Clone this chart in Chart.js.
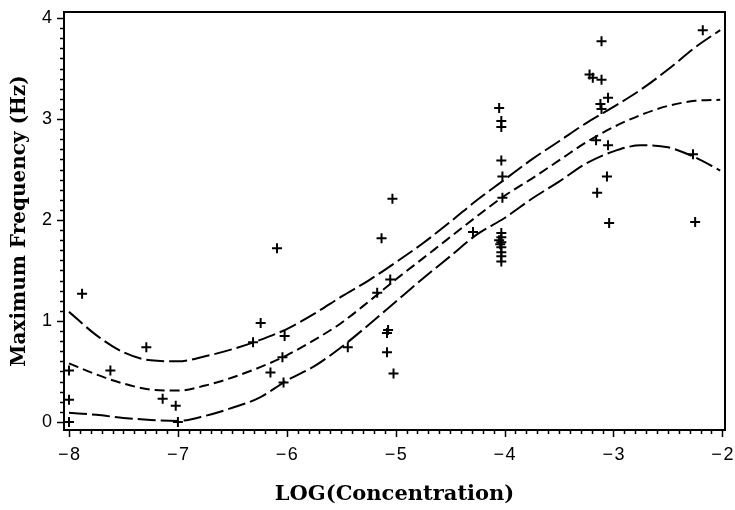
<!DOCTYPE html>
<html>
<head>
<meta charset="utf-8">
<script src="https://cdn.jsdelivr.net/npm/chart.js@4/dist/chart.umd.min.js"></script>
<style>
  body { margin: 0; background: #fff; }
</style>
</head>
<body>
<canvas id="freqChart" width="735" height="510"></canvas>
<script>
// tick labels
const xTicks = [-8, -7, -6, -5, -4, -3, -2];
const yTicks = [0, 1, 2, 3, 4];

// observed points: log(concentration) vs maximum frequency
const concX = [
    -8.00, -8.00, -8.00, -7.88, -7.62, -7.29, -7.14, -7.02, -7.00,
    -6.31, -6.24, -6.09, -6.02, -6.04, -6.15, -6.03,
    -5.44, -5.17, -5.13, -5.05, -5.03, -5.07, -5.08, -5.08, -5.02,
    -4.29, -4.05, -4.03, -4.03, -4.03, -4.02, -4.02, -4.03, -4.03,
    -4.05, -4.03, -4.04, -4.03, -4.03, -4.03, -4.03,
    -3.22, -3.19, -3.11, -3.11, -3.05, -3.12, -3.11, -3.16, -3.05,
    -3.06, -3.15, -3.04, -2.18, -2.27, -2.25
];
const freqY = [
    0.00, 0.22, 0.51, 1.27, 0.51, 0.74, 0.23, 0.16, 0.00,
    0.79, 0.98, 1.72, 0.85, 0.64, 0.49, 0.39,
    0.74, 1.28, 1.82, 1.41, 2.21, 0.91, 0.88, 0.69, 0.48,
    1.88, 3.11, 2.98, 2.92, 2.59, 2.43, 2.22, 1.87, 1.83,
    1.80, 1.78, 1.76, 1.73, 1.68, 1.64, 1.59,
    3.44, 3.41, 3.39, 3.77, 3.21, 3.15, 3.10, 2.79, 2.74,
    2.43, 2.27, 1.97, 3.88, 2.65, 1.98
];

// fitted curve and its confidence band
const curveX = [
    -8.00, -7.75, -7.50, -7.25, -7.00, -6.75, -6.50, -6.25, -6.00,
    -5.75, -5.50, -5.25, -5.00, -4.75, -4.50, -4.25, -4.00,
    -3.75, -3.50, -3.25, -3.00, -2.75, -2.50, -2.25, -2.02
];
const upperY = [
    1.09, 0.86, 0.69, 0.61, 0.60, 0.65, 0.72, 0.81, 0.92,
    1.07, 1.24, 1.40, 1.58, 1.77, 1.98, 2.20, 2.40,
    2.60, 2.78, 2.96, 3.12, 3.29, 3.49, 3.71, 3.88
];
const fitY = [
    0.58, 0.47, 0.38, 0.32, 0.31, 0.36, 0.44, 0.54, 0.66,
    0.81, 0.98, 1.19, 1.41, 1.62, 1.83, 2.04, 2.24,
    2.41, 2.59, 2.77, 2.92, 3.04, 3.13, 3.18, 3.19
];
const lowerY = [
    0.09, 0.07, 0.04, 0.02, 0.01, 0.06, 0.14, 0.24, 0.41,
    0.55, 0.74, 0.96, 1.19, 1.42, 1.64, 1.86, 2.02,
    2.21, 2.38, 2.56, 2.68, 2.74, 2.72, 2.62, 2.49
];

const tickFont = { family: 'Liberation Sans', size: 18 };

// plot frame plus major/minor tick marks (0.1 steps)
const frameTicks = {
    id: 'frameTicks',
    afterDraw(chart) {
        const { ctx, chartArea: a, scales: { x, y } } = chart;
        ctx.save();
        ctx.strokeStyle = '#000';
        ctx.lineWidth = 2;
        ctx.strokeRect(a.left, a.top, a.right - a.left, a.bottom - a.top);
        ctx.lineWidth = 1.5;
        ctx.beginPath();
        for (let i = xTicks[0] * 10; i <= xTicks[xTicks.length - 1] * 10; i++) {
            const px = Math.round(x.getPixelForValue(i / 10)) + 0.5;
            const len = i % 10 === 0 ? 7 : 4;
            ctx.moveTo(px, a.bottom);
            ctx.lineTo(px, a.bottom + len);
        }
        for (let i = yTicks[0] * 10; i <= yTicks[yTicks.length - 1] * 10; i++) {
            const py = Math.round(y.getPixelForValue(i / 10)) + 0.5;
            const len = i % 10 === 0 ? 7 : 4;
            ctx.moveTo(a.left, py);
            ctx.lineTo(a.left - len, py);
        }
        ctx.stroke();
        ctx.restore();
    }
};

function curve(ys, dash) {
    return {
        type: 'line',
        data: curveX.map((v, i) => ({ x: v, y: ys[i] })),
        borderColor: '#000',
        borderWidth: 2,
        borderDash: dash,
        pointRadius: 0,
        cubicInterpolationMode: 'monotone',
        fill: false
    };
}

const ctx = document.getElementById('freqChart');

new Chart(ctx, {
    type: 'scatter',
    data: {
        datasets: [
            {
                data: concX.map((v, i) => ({ x: v, y: freqY[i] })),
                pointStyle: 'cross',
                pointRadius: 5,
                borderColor: '#000',
                borderWidth: 2
            },
            curve(upperY, [18, 5]),
            curve(fitY, [10, 5]),
            curve(lowerY, [18, 5])
        ]
    },
    options: {
        responsive: false,
        animation: false,
        layout: { padding: { top: 12, right: 10, left: 0, bottom: 0 } },
        plugins: {
            legend: { display: false },
            tooltip: { enabled: false }
        },
        scales: {
            x: {
                type: 'linear',
                min: -8.046,
                max: -1.976,
                afterBuildTicks: s => { s.ticks = xTicks.map(v => ({ value: v })); },
                afterFit: s => { s.height = 80; s.paddingLeft = 0; s.paddingRight = 0; },
                grid: { display: false, drawTicks: false },
                border: { display: false },
                ticks: {
                    padding: 14,
                    color: '#000',
                    font: tickFont,
                    maxRotation: 0,
                    callback: v => '\u2212\u200a' + Math.abs(v)
                },
                title: {
                    display: true,
                    text: 'LOG(Concentration)',
                    color: '#000',
                    font: { family: 'DejaVu Serif', size: 21, weight: 'bold' },
                    padding: { top: 0, bottom: 3 }
                }
            },
            y: {
                type: 'linear',
                min: -0.08,
                max: 4.06,
                afterBuildTicks: s => { s.ticks = yTicks.map(v => ({ value: v })); },
                afterFit: s => { s.width = 64; s.paddingTop = 0; s.paddingBottom = 0; },
                grid: { display: false, drawTicks: false },
                border: { display: false },
                ticks: {
                    padding: 12,
                    color: '#000',
                    font: tickFont
                },
                title: {
                    display: true,
                    text: 'Maximum Frequency (Hz)',
                    color: '#000',
                    font: { family: 'DejaVu Serif', size: 20, weight: 'bold' },
                    padding: { top: 8, bottom: 0 }
                }
            }
        }
    },
    plugins: [frameTicks]
});
</script>
</body>
</html>
